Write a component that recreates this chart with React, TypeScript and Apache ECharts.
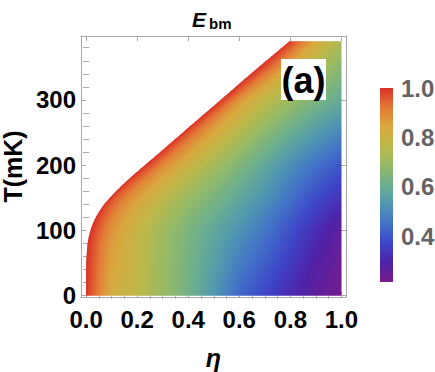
import React, { useEffect, useRef } from "react";
import * as echarts from "echarts";

// ---- values ----
const ETA_COLS = [0, 0.1, 0.2, 0.3, 0.4, 0.5, 0.6, 0.7, 0.8, 0.9, 1.0];
const T_ROWS = [0, 50, 100, 150, 200, 250, 300, 350, 390];
// E_bm at each (T row, eta column); null = outside the plotted region
const ROW_VALUES: (number | null)[][] = [
  [1.0, 0.82, 0.77, 0.7, 0.62, 0.53, 0.43, 0.37, 0.31, 0.26, 0.22],
  [1.0, 0.85, 0.78, 0.7, 0.63, 0.555, 0.475, 0.415, 0.35, 0.285, 0.24],
  [null, 0.88, 0.79, 0.71, 0.64, 0.58, 0.52, 0.46, 0.39, 0.32, 0.26],
  [null, 0.97, 0.86, 0.77, 0.7, 0.64, 0.58, 0.52, 0.45, 0.38, 0.33],
  [null, null, null, 0.9, 0.8, 0.72, 0.65, 0.58, 0.51, 0.45, 0.4],
  [null, null, null, null, 0.96, 0.84, 0.75, 0.67, 0.6, 0.54, 0.49],
  [null, null, null, null, null, null, 0.88, 0.77, 0.7, 0.64, 0.59],
  [null, null, null, null, null, null, null, 0.97, 0.83, 0.74, 0.66],
  [null, null, null, null, null, null, null, null, 0.99, 0.84, 0.73],
];
// left edge of the region (where E_bm = 1)
const EDGE_T = [0, 40, 60, 80, 100, 110, 120, 130, 140, 160, 180, 200, 220, 260, 300, 340, 390];
const EDGE_ETA = [0, 0, 0.002, 0.006, 0.017, 0.026, 0.038, 0.053, 0.071, 0.117, 0.171, 0.23, 0.29, 0.408, 0.527, 0.645, 0.797];

const X_MAJOR = [0, 0.2, 0.4, 0.6, 0.8, 1.0];
const X_MINOR = [0.05, 0.1, 0.15, 0.25, 0.3, 0.35, 0.45, 0.5, 0.55, 0.65, 0.7, 0.75, 0.85, 0.9, 0.95];
const Y_MAJOR = [0, 100, 200, 300];
const Y_MINOR = [20, 40, 60, 80, 120, 140, 160, 180, 220, 240, 260, 280, 320, 340, 360, 380];
const CB_LABELS = [0.4, 0.6, 0.8, 1.0];
const CB_TICKS = [0.45, 0.5, 0.55, 0.6, 0.65, 0.7, 0.75];
const V_MIN = 0.215;
const V_MAX = 1.0;
// colour scale, low -> high
const RAINBOW = ["#781C8C", "#4F22A8", "#3D45C8", "#4272C8", "#5097B0", "#6CAF8E", "#93BA66", "#BDB94A", "#D9A83E", "#E47A36", "#DA3027"];

const FONT = "Liberation Sans, Arial, sans-serif";
const FRAME = "#a8a8a8";

function interp(xs: number[], ys: number[], x: number) {
  if (x <= xs[0]) return ys[0];
  for (let i = 1; i < xs.length; i++) {
    if (x <= xs[i]) {
      const t = (x - xs[i - 1]) / (xs[i] - xs[i - 1]);
      return ys[i - 1] + (ys[i] - ys[i - 1]) * t;
    }
  }
  return ys[ys.length - 1];
}

// monotone cubic (Fritsch-Carlson) so the drawn edge is a smooth curve through the read points
function makeMonotone(xs: number[], ys: number[]) {
  const n = xs.length;
  const d: number[] = [];
  for (let i = 0; i < n - 1; i++) d.push((ys[i + 1] - ys[i]) / (xs[i + 1] - xs[i]));
  const m: number[] = new Array(n);
  m[0] = d[0];
  m[n - 1] = d[n - 2];
  for (let i = 1; i < n - 1; i++) m[i] = d[i - 1] * d[i] <= 0 ? 0 : (d[i - 1] + d[i]) / 2;
  for (let i = 0; i < n - 1; i++) {
    if (d[i] === 0) {
      m[i] = 0;
      m[i + 1] = 0;
      continue;
    }
    const a = m[i] / d[i];
    const b = m[i + 1] / d[i];
    const s = a * a + b * b;
    if (s > 9) {
      const t = 3 / Math.sqrt(s);
      m[i] = t * a * d[i];
      m[i + 1] = t * b * d[i];
    }
  }
  return (x: number) => {
    if (x <= xs[0]) return ys[0];
    if (x >= xs[n - 1]) return ys[n - 1];
    let i = 0;
    while (x > xs[i + 1]) i++;
    const h = xs[i + 1] - xs[i];
    const t = (x - xs[i]) / h;
    const t2 = t * t;
    const t3 = t2 * t;
    return (2 * t3 - 3 * t2 + 1) * ys[i] + (t3 - 2 * t2 + t) * h * m[i] + (-2 * t3 + 3 * t2) * ys[i + 1] + (t3 - t2) * h * m[i + 1];
  };
}
const etaB = makeMonotone(EDGE_T, EDGE_ETA);

function hexRgb(h: string) {
  return [parseInt(h.slice(1, 3), 16), parseInt(h.slice(3, 5), 16), parseInt(h.slice(5, 7), 16)];
}
const RGB = RAINBOW.map(hexRgb);
function colorOf(v: number) {
  let f = (v - V_MIN) / (V_MAX - V_MIN);
  f = Math.max(0, Math.min(1, f)) * (RGB.length - 1);
  const i = Math.min(RGB.length - 2, Math.floor(f));
  const t = f - i;
  const c = RGB[i].map((a, k) => Math.round(a + (RGB[i + 1][k] - a) * t));
  return `rgb(${c[0]},${c[1]},${c[2]})`;
}

function rowProfile(i: number) {
  const eb = etaB(T_ROWS[i]);
  const ss = [0];
  const vs = [1.0];
  ETA_COLS.forEach((e, j) => {
    const v = ROW_VALUES[i][j];
    if (v != null && e > eb + 1e-6) {
      ss.push((e - eb) / (1 - eb));
      vs.push(v);
    }
  });
  return { ss, vs };
}

export default function App() {
  const ref = useRef<HTMLDivElement>(null);
  useEffect(() => {
    if (!ref.current) return;
    const chart = echarts.init(ref.current, undefined, { renderer: "svg" });
    const profiles = T_ROWS.map((_, i) => rowProfile(i));
    const S: number[] = [];
    for (let k = 0; k <= 40; k++) S.push(k / 40);

    const heatData = T_ROWS.slice(0, -1).map((t) => [1, t]);

    const tickAxis = (pos: string, vals: number[], len: number, extra: any = {}) => ({
      gridIndex: 0,
      type: "value",
      position: pos,
      axisLine: { show: false },
      axisTick: { show: true, inside: true, length: len, customValues: vals, lineStyle: { color: FRAME, width: 1 } },
      axisLabel: { show: false },
      splitLine: { show: false },
      ...extra,
    });

    const xMinMax = { min: -0.02, max: 1.018 };
    const yMinMax = { min: -2, max: 398 };
    const labelStyle = { fontFamily: FONT, fontWeight: "bold", fontSize: 24, color: "#000" };

    chart.setOption({
      animation: false,
      grid: [
        { left: 81, top: 36, width: 265, height: 261, containLabel: false, outerBoundsMode: "none" },
        { left: 380, top: 88, width: 13, height: 194, containLabel: false, outerBoundsMode: "none" },
      ],
      xAxis: [
        {
          ...tickAxis("bottom", X_MAJOR, 5, xMinMax),
          axisLine: { show: true, onZero: false, lineStyle: { color: FRAME } },
          axisLabel: { show: true, customValues: X_MAJOR, margin: 10, formatter: (v: number) => v.toFixed(1), ...labelStyle },
          name: "η",
          nameLocation: "middle",
          nameGap: 48,
          nameTextStyle: { fontFamily: FONT, fontStyle: "italic", fontWeight: "bold", fontSize: 25, color: "#000" },
        },
        tickAxis("bottom", X_MINOR, 3, xMinMax),
        { ...tickAxis("top", X_MAJOR, 5, xMinMax), axisLine: { show: true, onZero: false, lineStyle: { color: FRAME } } },
        tickAxis("top", X_MINOR, 3, xMinMax),
        { gridIndex: 1, type: "value", min: 0, max: 1, show: false },
      ],
      yAxis: [
        {
          ...tickAxis("left", Y_MAJOR, 5, yMinMax),
          axisLine: { show: true, onZero: false, lineStyle: { color: FRAME } },
          axisLabel: { show: true, customValues: Y_MAJOR, margin: 5, ...labelStyle },
          name: "T(mK)",
          nameLocation: "middle",
          nameGap: 44,
          nameRotate: 90,
          nameTextStyle: { fontFamily: FONT, fontWeight: "bold", fontSize: 25, color: "#000" },
        },
        tickAxis("left", Y_MINOR, 3, yMinMax),
        { ...tickAxis("right", Y_MAJOR, 5, yMinMax), axisLine: { show: true, onZero: false, lineStyle: { color: FRAME } } },
        tickAxis("right", Y_MINOR, 3, yMinMax),
        {
          gridIndex: 1,
          type: "value",
          position: "right",
          min: V_MIN,
          max: V_MAX,
          axisLine: { show: false },
          splitLine: { show: false },
          axisTick: { show: true, inside: false, length: 4, customValues: CB_TICKS, lineStyle: { color: "#c4c4c4" } },
          axisLabel: { customValues: CB_LABELS, margin: 8, formatter: (v: number) => v.toFixed(1), fontFamily: FONT, fontWeight: "bold", fontSize: 24, color: "#646464" },
        },
      ],
      series: [
        {
          type: "custom",
          xAxisIndex: 0,
          yAxisIndex: 0,
          data: heatData,
          encode: { x: 0, y: 1 },
          renderItem: (params: any, api: any) => {
            const i = params.dataIndex;
            const t0 = T_ROWS[i];
            const t1 = T_ROWS[i + 1];
            const pA = profiles[i];
            const pB = profiles[i + 1];
            const n = Math.max(1, Math.round((t1 - t0) / 2));
            const h = (t1 - t0) / n;
            const children: any[] = [];
            for (let k = 0; k < n; k++) {
              const a = t0 + k * h;
              const b = a + h;
              const isTop = i === T_ROWS.length - 2 && k === n - 1;
              const bt = isTop ? b : b + 1.2;
              const m = (a + b) / 2;
              const w = (m - t0) / (t1 - t0);
              const ebm = etaB(m);
              const pts = [api.coord([etaB(a), a]), api.coord([1, a]), api.coord([1, bt]), api.coord([etaB(bt), bt])];
              const xs = api.coord([ebm, m])[0];
              const xe = api.coord([1, m])[0];
              const stops = S.map((s) => {
                const va = interp(pA.ss, pA.vs, s);
                const vb = interp(pB.ss, pB.vs, s);
                return { offset: s, color: colorOf(va + (vb - va) * w) };
              });
              children.push({
                type: "polygon",
                shape: { points: pts },
                style: { fill: new echarts.graphic.LinearGradient(xs, 0, xe, 0, stops, true), stroke: null },
              });
            }
            return { type: "group", children };
          },
        },
        {
          type: "custom",
          xAxisIndex: 4,
          yAxisIndex: 4,
          data: [[0, V_MIN]],
          renderItem: (_p: any, api: any) => {
            const p0 = api.coord([0, V_MAX]);
            const p1 = api.coord([1, V_MIN]);
            const stops = RAINBOW.map((c, k) => ({ offset: k / (RAINBOW.length - 1), color: c }));
            return {
              type: "rect",
              shape: { x: p0[0], y: p0[1], width: p1[0] - p0[0], height: p1[1] - p0[1] },
              style: { fill: new echarts.graphic.LinearGradient(0, p1[1], 0, p0[1], stops, true) },
            };
          },
        },
      ],
      graphic: [
        {
          type: "text",
          z: 100,
          style: { text: "E", x: 192, y: 19, verticalAlign: "middle", align: "left", font: `italic bold 21px ${FONT}`, fill: "#000" },
        },
        {
          type: "text",
          z: 100,
          style: { text: "bm", x: 209, y: 23.5, verticalAlign: "middle", align: "left", font: `bold 15px ${FONT}`, fill: "#000" },
        },
        { type: "rect", z: 100, shape: { x: 281, y: 59, width: 45, height: 41 }, style: { fill: "#fff" } },
        {
          type: "text",
          z: 101,
          style: { text: "(a)", x: 303.5, y: 80, align: "center", verticalAlign: "middle", font: `bold 36px ${FONT}`, fill: "#000" },
        },
      ],
    });
    return () => chart.dispose();
  }, []);
  return <div ref={ref} style={{ position: "fixed", left: 0, top: 0, width: 435, height: 372, background: "#fff" }} />;
}
